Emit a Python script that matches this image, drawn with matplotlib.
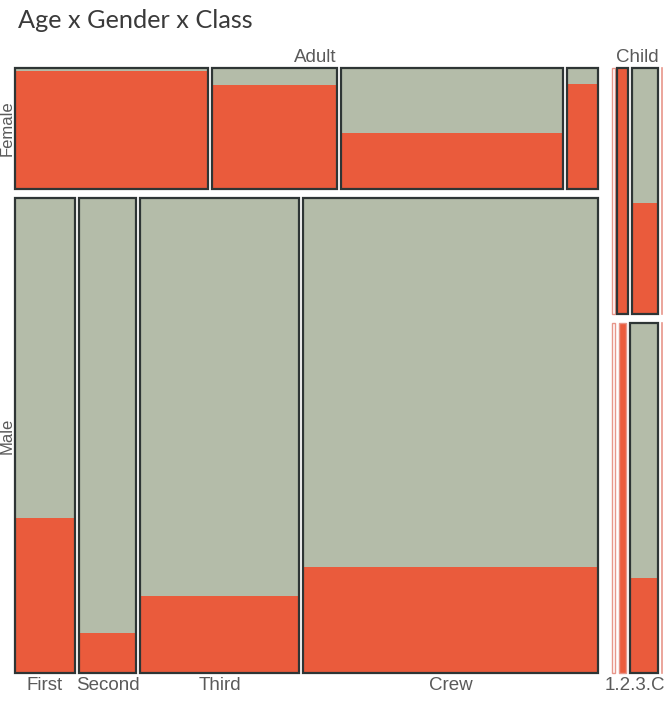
"""Mosaic plot of Titanic passengers: Age x Gender x Class, split by survival."""

import matplotlib

matplotlib.use("Agg")
import matplotlib.pyplot as plt
from matplotlib.patches import Rectangle

ages = ["Adult", "Child"]
genders = ["Female", "Male"]
class_labels = ["First", "Second", "Third", "Crew"]
child_class_label = "1.2.3.C"

# counts per class (First, Second, Third, Crew)
survived = {
    ("Adult", "Female"): [140, 80, 76, 20],
    ("Adult", "Male"): [57, 14, 75, 192],
    ("Child", "Female"): [1, 13, 14, 0],
    ("Child", "Male"): [5, 11, 13, 0],
}
died = {
    ("Adult", "Female"): [4, 13, 89, 3],
    ("Adult", "Male"): [118, 154, 387, 670],
    ("Child", "Female"): [0, 0, 17, 0],
    ("Child", "Male"): [0, 0, 35, 0],
}

RED = "#ea5b3c"
GREY = "#b4bca9"
EDGE = "#2e3535"
PALE = "#e7968a"
TEXT = "#5a5a5a"
FONT = "Liberation Sans"

# layout in pixel units
panels = {"Adult": (15, 598), "Child": (612, 662)}
TOP, BOTTOM = 68, 673
GENDER_GAP = 9
CLASS_GAP = 4

fig = plt.figure(figsize=(6.7, 7.02), dpi=100)
ax = fig.add_axes([0, 0, 1, 1])
ax.set_xlim(0, 670)
ax.set_ylim(702, 0)
ax.axis("off")

for age in ages:
    x0, x1 = panels[age]
    totals = {g: sum(survived[(age, g)]) + sum(died[(age, g)]) for g in genders}
    usable_h = BOTTOM - TOP - GENDER_GAP
    y = TOP
    for g in genders:
        gh = usable_h * totals[g] / sum(totals.values())
        s_list, d_list = survived[(age, g)], died[(age, g)]
        n_list = [s + d for s, d in zip(s_list, d_list)]
        usable_w = (x1 - x0) - CLASS_GAP * (len(n_list) - 1)
        x = x0
        for s, n in zip(s_list, n_list):
            w = usable_w * n / totals[g]
            if n == 0:
                ax.plot([x, x], [y, y + gh], color=PALE, lw=1.2)
            elif w < 4:
                ax.add_patch(Rectangle((x, y), max(w, 2.5), gh, facecolor="none",
                                       edgecolor=PALE, lw=1.0))
            elif w < 8:
                ax.add_patch(Rectangle((x, y), w, gh, facecolor=RED,
                                       edgecolor=PALE, lw=1.0))
            else:
                red_h = gh * s / n
                ax.add_patch(Rectangle((x, y + gh - red_h), w, red_h, facecolor=RED, lw=0))
                ax.add_patch(Rectangle((x, y), w, gh - red_h, facecolor=GREY, lw=0))
                ax.add_patch(Rectangle((x, y), w, gh, facecolor="none", edgecolor=EDGE, lw=1.6))
            x += w + CLASS_GAP
        if age == "Adult":
            ax.text(7.5, y + gh / 2, g, rotation=90, ha="center", va="center",
                    fontsize=12, color=TEXT, family=FONT)
        if age == "Adult" and g == "Male":
            x = x0
            for lab, n in zip(class_labels, n_list):
                w = usable_w * n / totals[g]
                ax.text(x + w / 2, BOTTOM + 13, lab, ha="center", va="center",
                        fontsize=13.5, color=TEXT, family=FONT)
                x += w + CLASS_GAP
        y += gh + GENDER_GAP
    ax.text((x0 + x1) / 2 if age == "Child" else 315, TOP - 11, age, ha="center",
            va="center", fontsize=13.5, color=TEXT, family=FONT)

ax.text(635, BOTTOM + 13, child_class_label, ha="center", va="center",
        fontsize=13.5, color=TEXT, family=FONT)
ax.text(18, 21, "Age x Gender x Class", ha="left", va="center", fontsize=18.2,
        color="#3a3a3a", family="Lato")

fig.savefig("out.png", dpi=100)
